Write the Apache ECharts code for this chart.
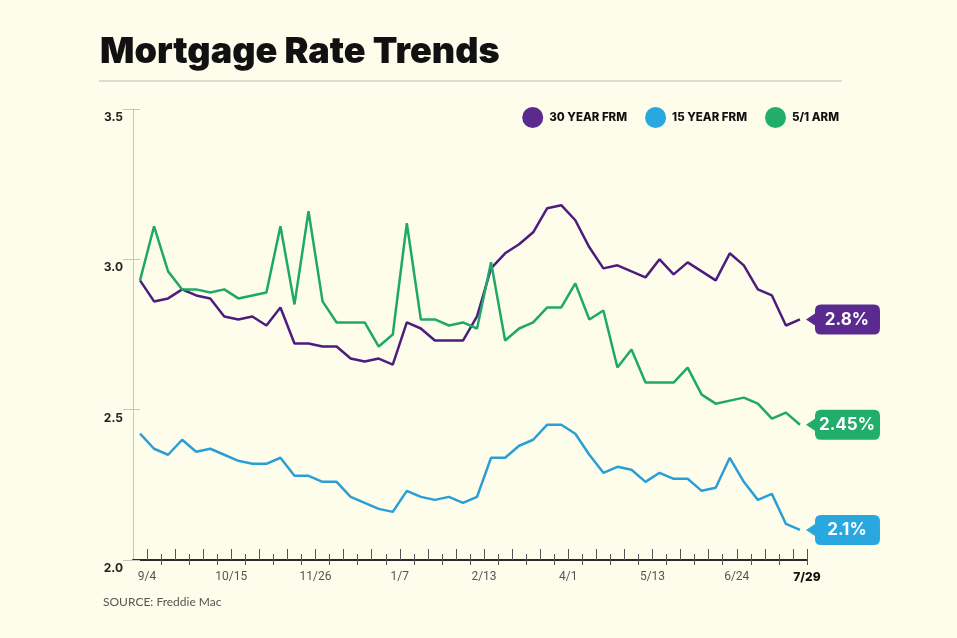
<!DOCTYPE html>
<html>
<head>
<meta charset="utf-8">
<script src="https://cdn.jsdelivr.net/npm/echarts@6/dist/echarts.min.js"></script>
<style>
html,body{margin:0;padding:0;background:#fefdeb;}
#c{width:957px;height:638px;}
</style>
</head>
<body>
<div id="c"></div>
<script>
// Weekly categories (48 weeks); only some are labelled on the axis
const tickLabels = ['9/4','10/15','11/26','1/7','2/13','4/1','5/13','6/24','7/29'];
const tickIndex  = [0, 6, 12, 18, 24, 30, 36, 42, 47];
const weekCount = 48;

const frm30 = [2.93,2.86,2.87,2.90,2.88,2.87,2.81,2.80,2.81,2.78,2.84,2.72,2.72,2.71,2.71,2.67,
               2.66,2.67,2.65,2.79,2.77,2.73,2.73,2.73,2.81,2.97,3.02,3.05,3.09,3.17,3.18,3.13,
               3.04,2.97,2.98,2.96,2.94,3.00,2.95,2.99,2.96,2.93,3.02,2.98,2.90,2.88,2.78,2.80];
const frm15 = [2.42,2.37,2.35,2.40,2.36,2.37,2.35,2.33,2.32,2.32,2.34,2.28,2.28,2.26,2.26,2.21,
               2.19,2.17,2.16,2.23,2.21,2.20,2.21,2.19,2.21,2.34,2.34,2.38,2.40,2.45,2.45,2.42,
               2.35,2.29,2.31,2.30,2.26,2.29,2.27,2.27,2.23,2.24,2.34,2.26,2.20,2.22,2.12,2.10];
const arm51 = [2.93,3.11,2.96,2.90,2.90,2.89,2.90,2.87,2.88,2.89,3.11,2.85,3.16,2.86,2.79,2.79,
               2.79,2.71,2.75,3.12,2.80,2.80,2.78,2.79,2.77,2.99,2.73,2.77,2.79,2.84,2.84,2.92,
               2.80,2.83,2.64,2.70,2.59,2.59,2.59,2.64,2.55,2.52,2.53,2.54,2.52,2.47,2.49,2.45];

const seriesNames = ['30 YEAR FRM','15 YEAR FRM','5/1 ARM'];
const seriesColors = ['#5a2a8f','#29a8e0','#21ad6c'];
const lineColors = ['#4b1d7e','#2a9fd6','#1fa868'];

const categories = [];
for (let i = 0; i < weekCount; i++) {
  const k = tickIndex.indexOf(i);
  categories.push(k >= 0 ? tickLabels[k] : '');
}

const calloutPath = 'path://M0 15 L9 9 L9 6 Q9 0 15 0 L68 0 Q74 0 74 6 L74 24 Q74 30 68 30 L15 30 Q9 30 9 24 L9 21 Z';

function makeSeries(name, data, idx) {
  const last = data.length - 1;
  return {
    name: name,
    type: 'line',
    data: data,
    xAxisIndex: 0,
    yAxisIndex: 0,
    showSymbol: false,
    symbol: 'none',
    itemStyle: {color: seriesColors[idx]},
    lineStyle: {color: lineColors[idx], width: 2.5},
    z: 3 + idx,
    markPoint: {
      symbol: calloutPath,
      symbolSize: [74, 30],
      symbolOffset: [43, 0],
      silent: true,
      itemStyle: {color: seriesColors[idx]},
      label: {
        show: true,
        color: '#fff',
        fontFamily: 'Inter, Lato, sans-serif',
        fontWeight: 700,
        fontSize: 17,
        offset: [4, 0],
        formatter: function (p) { return p.value + '%'; }
      },
      data: [{coord: [last, data[last]], value: data[last]}]
    }
  };
}

const chart = echarts.init(document.getElementById('c'), null, {renderer: 'canvas'});
chart.setOption({
  animation: false,
  backgroundColor: '#fefdeb',
  title: {
    text: 'Mortgage Rate Trends',
    left: 95,
    top: 29,
    textStyle: {fontFamily: 'Inter, Lato, sans-serif', fontWeight: 900, fontSize: 36, color: '#111'}
  },
  legend: {
    data: seriesNames,
    right: 113,
    top: 102,
    icon: 'circle',
    itemWidth: 21,
    itemHeight: 21,
    itemGap: 18,
    textStyle: {fontFamily: 'Inter, Lato, sans-serif', fontWeight: 800, fontSize: 11.5, color: '#111', padding: [0, 0, 0, 1]}
  },
  graphic: [
    {type: 'line', shape: {x1: 99, y1: 81, x2: 842, y2: 81}, style: {stroke: '#bdbdb5', lineWidth: 1}},
    {type: 'text', left: 103, top: 596, style: {text: 'SOURCE: Freddie Mac', fill: '#555', font: '12px Lato, sans-serif'}}
  ],
  grid: {left: 133, right: 150, top: 109, bottom: 78, containLabel: false},
  xAxis: [
    {
      type: 'category',
      data: categories,
      boundaryGap: true,
      position: 'bottom',
      axisLine: {show: true, lineStyle: {color: '#2a2a2a', width: 2}},
      axisTick: {show: true, inside: true, length: 11, lineStyle: {color: '#555', width: 1},
                 interval: function (i) { return i % 2 === 1; }},
      axisLabel: {
        show: true,
        margin: 11,
        interval: function (i) { return tickIndex.indexOf(i) >= 0; },
        color: '#555',
        fontFamily: '"Liberation Sans Narrow", Roboto, sans-serif',
        fontSize: 12,
        padding: [0, 0, 0, 14],
        formatter: function (v, i) { return i === weekCount - 1 ? '{b|' + v + '}' : v; },
        rich: {b: {fontFamily: 'Inter, Lato, sans-serif', fontWeight: 800, fontSize: 12, color: '#111'}}
      },
      splitLine: {show: false}
    },
    {
      type: 'category',
      data: categories,
      boundaryGap: true,
      position: 'bottom',
      offset: -6,
      axisLine: {show: false},
      axisTick: {show: true, inside: false, length: 11, lineStyle: {color: '#555', width: 1},
                 interval: function (i) { return i % 2 === 0 && i > 0; }},
      axisLabel: {show: false},
      splitLine: {show: false}
    }
  ],
  yAxis: [
    {
      type: 'value',
      min: 2.0,
      max: 3.5,
      interval: 0.5,
      axisLine: {show: true, lineStyle: {color: '#c6c6c0', width: 1}},
      axisTick: {show: true, length: 10, lineStyle: {color: '#c6c6c0'}},
      axisLabel: {
        margin: 10,
        color: '#222',
        fontFamily: 'Inter, Lato, sans-serif',
        fontWeight: 700,
        fontSize: 12,
        verticalAlign: 'top',
        lineHeight: 17,
        formatter: function (v) { return v.toFixed(1); }
      },
      splitLine: {show: false}
    },
    {
      type: 'value',
      min: 2.0,
      max: 3.5,
      interval: 0.5,
      position: 'left',
      axisLine: {show: false},
      axisTick: {show: true, inside: true, length: 7, lineStyle: {color: '#c6c6c0'}},
      axisLabel: {show: false},
      splitLine: {show: false}
    }
  ],
  series: [
    makeSeries(seriesNames[0], frm30, 0),
    makeSeries(seriesNames[1], frm15, 1),
    makeSeries(seriesNames[2], arm51, 2)
  ]
});
</script>
</body>
</html>
